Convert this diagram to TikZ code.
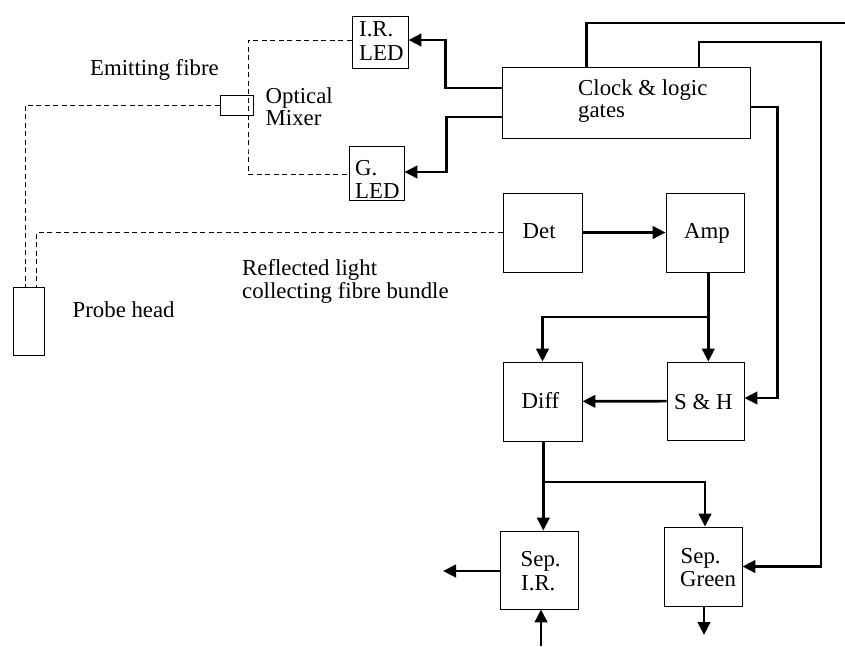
\documentclass[tikz,border=0pt]{standalone}
\usepackage{fontspec}
\setmainfont{Liberation Serif}
\usetikzlibrary{arrows.meta}
\begin{document}
\begin{tikzpicture}[x=1pt,y=-1pt,
  box/.style={draw,line width=0.9pt,inner sep=0pt,minimum width=#1},
  conn/.style={line width=2.7pt,line join=miter},
  arr/.style={conn,-{Triangle[length=13pt,width=12.5pt]}},
  fib/.style={line width=0.8pt,dash pattern=on 5pt off 3.5pt},
  lbl/.style={anchor=base west,inner sep=0pt,font=\fontsize{22.8}{24}\selectfont}]
\useasboundingbox[fill=white] (0,0) rectangle (845,646);
% boxes
\node[box=56pt,minimum height=52pt] (irled) at (380,42) {};
\node[box=55pt,minimum height=54pt] (gled) at (376.5,173) {};
\node[box=33pt,minimum height=20pt] (mixer) at (236.5,105) {};
\node[box=248pt,minimum height=71pt] (clock) at (626,102.5) {};
\node[box=79pt,minimum height=79pt] (det) at (542.5,232.5) {};
\node[box=78pt,minimum height=79pt] (amp) at (705,232.5) {};
\node[box=79pt,minimum height=79pt] (diff) at (542.5,401.5) {};
\node[box=77pt,minimum height=78pt] (sh) at (705.5,401) {};
\node[box=78pt,minimum height=78pt] (sepir) at (539,570) {};
\node[box=78pt,minimum height=79pt] (sepg) at (703,566.5) {};
\node[box=31pt,minimum height=68pt] (probe) at (28.5,321) {};
% texts
\node[lbl] (irA) at (359,36.5) {I.R.};
\node[lbl] (irB) at (359,60) {LED};
\node[lbl] (gA) at (355,175) {G.};
\node[lbl] (gB) at (355,198.5) {LED};
\node[lbl] (mxA) at (265.5,103) {Optical};
\node[lbl] (mxB) at (265.5,125.5) {Mixer};
\node[lbl] (emit) at (90,75) {Emitting fibre};
\node[lbl] (clA) at (578,95) {Clock \& logic};
\node[lbl] (clB) at (578,117.5) {gates};
\node[lbl] (detT) at (522.5,238.5) {Det};
\node[lbl] (ampT) at (684,238.5) {Amp};
\node[lbl] (diffT) at (521.5,408.5) {Diff};
\node[lbl] (shT) at (674,409) {S \& H};
\node[lbl] (sirA) at (520.5,566.5) {Sep.};
\node[lbl] (sirB) at (521,590) {I.R.};
\node[lbl] (sgA) at (680.5,563) {Sep.};
\node[lbl] (sgB) at (680,586.5) {Green};
\node[lbl] (reflA) at (242,275) {Reflected light};
\node[lbl] (reflB) at (242,298.5) {collecting fibre bundle};
\node[lbl] (probeT) at (72.5,317.5) {Probe head};
% coordinates
\coordinate (topout) at (845,23);
\coordinate (br1) at (708.3,317);
\coordinate (br2) at (543.3,482);
\coordinate (outL) at (443,571);
\coordinate (outD) at (704,635);
\coordinate (inB) at (541,646);
% fibres
\draw[fib] ([yshift=2pt]irled.west) -| (248,150) |- ([yshift=-1pt]gled.west);
\draw[fib] (mixer.west) -| ([xshift=-3.5pt]probe.north);
\draw[fib] (det.west) -| ([xshift=8pt]probe.north);
% connectors
\draw[arr] ([yshift=14.5pt]clock.west) -- ++(-56,0) |- ([yshift=2pt]irled.east);
\draw[arr] ([yshift=-14.5pt]clock.west) -- ++(-55,0) |- ([yshift=1pt]gled.east);
\draw[conn] ([xshift=-39.3pt]clock.north) |- (topout);
\draw[arr] ([xshift=73pt]clock.north) |- (821,42) |- (sepg.east);
\draw[arr] ([yshift=-4.5pt]clock.east) -- ++(27,0) |- ([yshift=3pt]sh.east);
\draw[arr] (det) -- (amp);
\draw[arr] ([xshift=3.3pt]amp.south) -- ([xshift=3.3pt]amp.south |- sh.north);
\draw[arr] (br1) -| (diff.north);
\draw[arr] (sh) -- (diff);
\draw[arr] ([xshift=0.8pt]diff.south) -- ([xshift=0.8pt]diff.south |- sepir.north);
\draw[arr] (br2) -| ([xshift=2pt]sepg.north);
\draw[arr] (sepir.west |- outL) -- (outL);
\draw[arr] ([xshift=1pt]sepg.south) -- (outD);
\draw[arr] (inB) -- (inB |- sepir.south);
\end{tikzpicture}
\end{document}
